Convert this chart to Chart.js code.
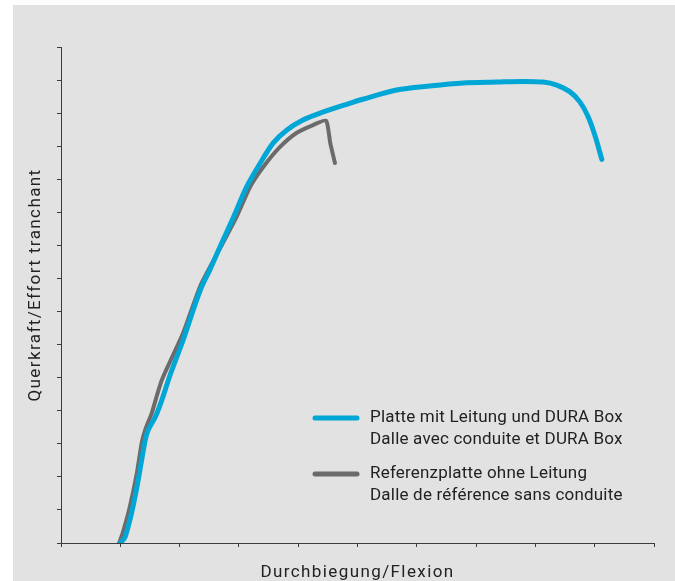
<!DOCTYPE html>
<html>
<head>
<meta charset="utf-8">
<script src="https://cdn.jsdelivr.net/npm/chart.js@4.4.1/dist/chart.umd.min.js"></script>
<style>
  html, body { margin: 0; padding: 0; background: #ffffff; }
  #panel { position: absolute; left: 13px; top: 5px; width: 662px; height: 576px; background: #e2e2e2; }
  canvas { display: block; }
</style>
</head>
<body>
<div id="panel"><canvas id="c" width="662" height="576"></canvas></div>
<script>
// Load–deflection curves (arbitrary units: deflection 0–10, shear force 0–15)
const xTitle = 'Durchbiegung/Flexion';
const yTitle = 'Querkraft/Effort tranchant';

const boxLabel = ['Platte mit Leitung und DURA Box', 'Dalle avec conduite et DURA Box'];
const refLabel = ['Referenzplatte ohne Leitung', 'Dalle de référence sans conduite'];

const boxDeflection = [1.00, 1.08, 1.19, 1.28, 1.36, 1.42, 1.47, 1.59, 1.70, 1.84, 2.06, 2.23, 2.37, 2.51, 2.68, 2.91, 3.13, 3.36, 3.58, 3.81, 4.08, 4.37, 4.84, 5.09, 5.66, 6.22, 6.78, 7.35, 7.79, 8.13, 8.36, 8.58, 8.75, 8.89, 9.01, 9.12];
const boxForce      = [0.00, 0.18, 0.91, 1.69, 2.51, 3.11, 3.42, 3.81, 4.32, 5.08, 6.14, 7.05, 7.74, 8.26, 8.95, 9.86, 10.77, 11.49, 12.10, 12.49, 12.79, 13.00, 13.28, 13.42, 13.70, 13.82, 13.91, 13.94, 13.96, 13.94, 13.85, 13.65, 13.34, 12.89, 12.29, 11.60];

const refDeflection = [0.98, 1.04, 1.16, 1.28, 1.36, 1.42, 1.53, 1.70, 2.06, 2.20, 2.37, 2.73, 2.96, 3.19, 3.41, 3.69, 3.97, 4.25, 4.47, 4.54, 4.62];
const refForce      = [0.00, 0.30, 1.09, 2.12, 3.02, 3.42, 3.93, 4.93, 6.35, 7.05, 7.86, 9.07, 9.86, 10.77, 11.37, 11.97, 12.40, 12.64, 12.77, 12.10, 11.49];

const xTicks = [0, 1, 2, 3, 4, 5, 6, 7, 8, 9, 10];
const yTicks = [0, 1, 2, 3, 4, 5, 6, 7, 8, 9, 10, 11, 12, 13, 14, 15];

const BLUE = '#00a6d6';
const GREY = '#6b6b6b';
const AXIS = '#3c3c3c';
const TEXT = '#222222';
const FONT = '17px Roboto, "Liberation Sans", sans-serif';

const toPoints = (xs, ys) => xs.map((x, i) => ({ x: x, y: ys[i] }));

// Axis titles and the two-line legend entries, drawn on top of the plot
const annotations = {
  id: 'annotations',
  afterDraw(chart) {
    const ctx = chart.ctx;
    const area = chart.chartArea;
    ctx.save();
    ctx.fillStyle = TEXT;
    ctx.font = FONT;
    ctx.textBaseline = 'middle';

    ctx.letterSpacing = '1.4px';
    ctx.textAlign = 'center';
    ctx.fillText(xTitle, (area.left + area.right) / 2, 568);

    ctx.save();
    ctx.translate(23, 280);
    ctx.rotate(-Math.PI / 2);
    ctx.fillText(yTitle, 0, 0);
    ctx.restore();
    ctx.letterSpacing = '0.2px';

    const entries = [
      { color: BLUE, width: 5, lines: boxLabel, y: 413 },
      { color: GREY, width: 5, lines: refLabel, y: 469 }
    ];
    ctx.textAlign = 'left';
    entries.forEach(e => {
      ctx.beginPath();
      ctx.strokeStyle = e.color;
      ctx.lineWidth = e.width;
      ctx.lineCap = 'round';
      ctx.moveTo(302, e.y);
      ctx.lineTo(344, e.y);
      ctx.stroke();
      e.lines.forEach((t, i) => ctx.fillText(t, 357, e.y + i * 22));
    });
    ctx.restore();
  }
};

const fixedWidth = w => scale => { scale.width = w; };
const fixedHeight = h => scale => { scale.height = h; };

new Chart(document.getElementById('c'), {
  type: 'scatter',
  data: {
    datasets: [
      {
        label: boxLabel.join(' '),
        data: toPoints(boxDeflection, boxForce),
        showLine: true,
        borderColor: BLUE,
        borderWidth: 5,
        pointRadius: 0,
        tension: 0.3,
        borderCapStyle: 'round',
        borderJoinStyle: 'round'
      },
      {
        label: refLabel.join(' '),
        data: toPoints(refDeflection, refForce),
        showLine: true,
        borderColor: GREY,
        borderWidth: 4,
        pointRadius: 0,
        tension: 0.2,
        borderCapStyle: 'round',
        borderJoinStyle: 'round'
      }
    ]
  },
  options: {
    responsive: false,
    animation: false,
    events: [],
    layout: { padding: { top: 42, right: 21, left: 0, bottom: 0 } },
    plugins: { legend: { display: false }, tooltip: { enabled: false } },
    scales: {
      x: {
        type: 'linear',
        min: xTicks[0],
        max: xTicks[xTicks.length - 1],
        afterBuildTicks: s => { s.ticks = xTicks.map(v => ({ value: v })); },
        afterFit: fixedHeight(38),
        ticks: { display: false },
        grid: { drawOnChartArea: false, drawTicks: true, tickLength: 4, color: AXIS, lineWidth: 1 },
        border: { display: true, color: AXIS, width: 1 }
      },
      y: {
        type: 'linear',
        min: yTicks[0],
        max: yTicks[yTicks.length - 1],
        afterBuildTicks: s => { s.ticks = yTicks.map(v => ({ value: v })); },
        afterFit: fixedWidth(48),
        ticks: { display: false },
        grid: { drawOnChartArea: false, drawTicks: true, tickLength: 4, color: AXIS, lineWidth: 1 },
        border: { display: true, color: AXIS, width: 1 }
      }
    }
  },
  plugins: [annotations]
});
</script>
</body>
</html>
